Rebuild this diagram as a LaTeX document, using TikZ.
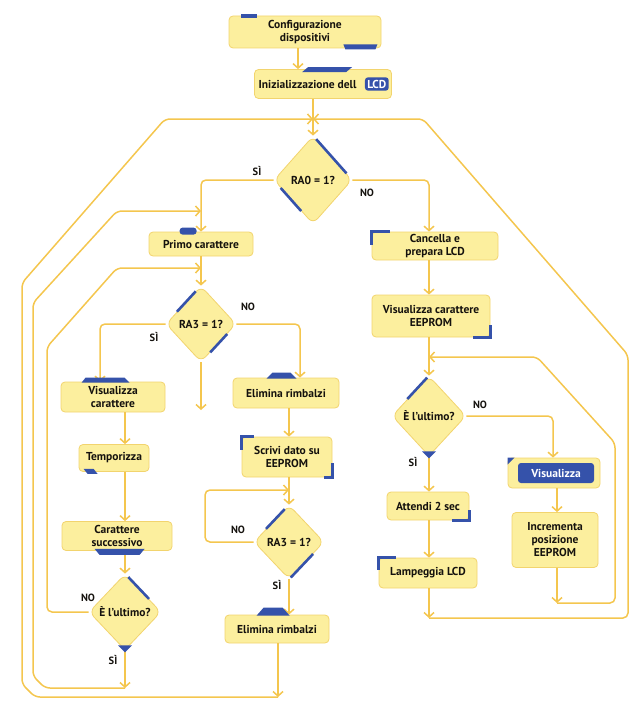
\documentclass[tikz,border=0pt]{standalone}
\usepackage{fontspec}
\setmainfont{PT Sans}
\usetikzlibrary{arrows.meta,calc,shapes.geometric}
\definecolor{boxfill}{HTML}{FCEF9E}
\definecolor{boxline}{HTML}{F2D46E}
\definecolor{linecol}{HTML}{F4C64E}
\definecolor{accent}{HTML}{3552AA}
\definecolor{txt}{HTML}{15120E}
\tikzset{
  fc/.style={draw=boxline, fill=boxfill, line width=0.8pt, rectangle, rounded corners=4pt, inner sep=1pt, align=center, text=txt, font=\bfseries\fontsize{11.5}{13}\selectfont},
  dia/.style={draw=boxline, fill=boxfill, line width=0.8pt, diamond, rounded corners=7pt, inner sep=0pt, align=center, text=txt, font=\bfseries\fontsize{11.5}{13}\selectfont},
  lcdb/.style={fill=accent, draw=none, rounded corners=3pt, text=white, inner sep=2.5pt, font=\bfseries\fontsize{11.5}{13}\selectfont},
  conn/.style={draw=linecol, line width=1.5pt, rounded corners=5pt, -{Straight Barb[length=4.5pt,width=10pt,line width=1.5pt]}},
  lbl/.style={text=txt, font=\bfseries\fontsize{10.5}{12}\selectfont, inner sep=0pt},
  acc/.style={fill=accent, draw=none},
  accl/.style={draw=accent, line width=2.6pt, line join=miter},
}
\begin{document}
\begin{tikzpicture}[x=1pt,y=-1pt]
\useasboundingbox (0,0) rectangle (634,701);

% ---------- nodes ----------
\node[fc, minimum width=152pt, minimum height=32pt] (cfg) at (305,32) {Configurazione\\dispositivi};
\node[fc, minimum width=137pt, minimum height=29pt] (init) at (323,84) {Inizializzazione dell\hspace{31pt}};
\node[lcdb, anchor=east] (lcd) at ($(init.east)+(-3,0)$) {LCD};
\node[dia, minimum width=78pt, minimum height=88pt] (ra0) at (313,180) {RA0 = 1?};
\node[fc, minimum width=104pt, minimum height=24pt] (primo) at (201,244) {Primo carattere};
\node[dia, minimum width=70pt, minimum height=76pt] (ra3a) at (201,324) {RA3 = 1?};
\node[fc, minimum width=104pt, minimum height=30pt] (viscar) at (113,397) {Visualizza\\carattere};
\node[fc, minimum width=70pt, minimum height=27pt] (temp) at (114,458) {Temporizza};
\node[fc, minimum width=110pt, minimum height=29pt] (carsucc) at (117,536) {Carattere\\successivo};
\node[dia, minimum width=72pt, minimum height=76pt] (ultA) at (125,612) {È l’ultimo?};
\node[fc, minimum width=106pt, minimum height=30pt] (elim1) at (286,393) {Elimina rimbalzi};
\node[fc, minimum width=90pt, minimum height=40pt] (scrivi) at (287,457) {Scrivi dato su\\EEPROM};
\node[dia, minimum width=70pt, minimum height=74pt] (ra3b) at (289,542) {RA3 = 1?};
\node[fc, minimum width=104pt, minimum height=28pt] (elim2) at (277,629) {Elimina rimbalzi};
\node[fc, minimum width=126pt, minimum height=28pt] (canc) at (435,246) {Cancella e\\prepara LCD};
\node[fc, minimum width=118pt, minimum height=42pt] (viseep) at (431,316) {Visualizza carattere\\EEPROM};
\node[dia, minimum width=74pt, minimum height=80pt] (ultB) at (429,416) {È l’ultimo?};
\node[fc, minimum width=82pt, minimum height=28pt] (attendi) at (428,506) {Attendi 2 sec};
\node[fc, minimum width=98pt, minimum height=30pt] (lamp) at (428,573) {Lampeggia LCD};
\node[fc, minimum width=92pt, minimum height=30pt] (vis) at (554,473) {};
\node[lcdb, minimum width=76pt, minimum height=20pt] (visin) at (556,473) {Visualizza};
\node[fc, minimum width=86pt, minimum height=55pt] (incr) at (555,540) {Incrementa\\posizione\\EEPROM};

% ---------- helper coordinates ----------
\coordinate (colA) at (125,0);
\coordinate (colB) at (289,0);
\coordinate (colC) at (429,0);
\coordinate (J0) at (ra0.north |- 0,119);
\coordinate (jP) at (primo.north |- 0,211);
\coordinate (jA) at (primo.south |- 0,268);
\coordinate (dang) at (201,410);
\coordinate (cA) at (colA |- 0,688);
\coordinate (jS) at (colB |- 0,490);
\coordinate (cB) at (278,697);
\coordinate (cC) at (colC |- 0,618);
\coordinate (jV) at (colC |- 0,357);
\coordinate (cD) at (557,603);

% ---------- connectors ----------
\draw[conn] ([xshift=-7pt]cfg.south) -- ([xshift=-7pt]cfg.south |- init.north);
\draw[conn] (ra0.north |- init.south) -- (ra0.north);
\draw[conn] (ra0.west) -| (primo.north);
\draw[conn] (ra0.east) -| (colC |- canc.north);
\draw[conn] (primo.south) -- (ra3a.north);
\draw[conn] (ra3a.west) -| ([xshift=-13pt]viscar.north);
\draw[conn] (ra3a.east) -| ([xshift=14pt]elim1.north);
\draw[conn] (ra3a.south) -- (dang);
\draw[conn] (colA |- viscar.south) -- (colA |- temp.north);
\draw[conn] (colA |- temp.south) -- (colA |- carsucc.north);
\draw[conn] (colA |- carsucc.south) -- (ultA.north);
\draw[conn] (ultA.west) -- (47,612) -- (47,347) -- (117,268) -- (jA);
\draw[conn] (ultA.south) -- (cA);
\draw[conn] (cA) -- (45,688) -- (33,676) -- (33,303) -- (117,211) -- (jP);
\draw[conn] (colB |- elim1.south) -- (colB |- scrivi.north);
\draw[conn] (colB |- scrivi.south) -- (ra3b.north);
\draw[conn] (ra3b.west) -| (205,490) -- (jS);
\draw[conn] (ra3b.south) -- (colB |- elim2.north);
\draw[conn] (cB |- elim2.south) -- (cB);
\draw[conn] (cB) -- (35,697) -- (22,684) -- (22,283) -- (165,119) -- (J0);
\draw[conn] (colC |- canc.south) -- (colC |- viseep.north);
\draw[conn] (colC |- viseep.south) -- (ultB.north);
\draw[conn] (ultB.south) -- (colC |- attendi.north);
\draw[conn] (colC |- attendi.south) -- (colC |- lamp.north);
\draw[conn] (colC |- lamp.south) -- (cC);
\draw[conn] (cC) -- (628,618) -- (628,355) -- (423,119) -- (J0);
\draw[conn] (ultB.east) -| ([xshift=-1pt]vis.north);
\draw[conn] (cD |- vis.south) -- (cD |- incr.north);
\draw[conn] (cD |- incr.south) -- (cD);
\draw[conn] (cD) -- (615,603) -- (615,443) -- (537,357) -- (jV);

% ---------- labels ----------
\node[lbl] (l1) at (257,171) {SÌ};
\node[lbl] (l2) at (367,193) {NO};
\node[lbl] (l3) at (154,337) {SÌ};
\node[lbl] (l4) at (248,307) {NO};
\node[lbl] (l5) at (88,598) {NO};
\node[lbl] (l6) at (113,660) {SÌ};
\node[lbl] (l7) at (238,530) {NO};
\node[lbl] (l8) at (277,585) {SÌ};
\node[lbl] (l9) at (480,405) {NO};
\node[lbl] (l10) at (413,462) {SÌ};

% ---------- blue accents ----------
\fill[acc] ($(cfg.north west)+(12,-2)$) rectangle ($(cfg.north west)+(28,2)$);
\fill[acc] ($(cfg.south east)+(-38,-4)$) -- ($(cfg.south east)+(-4,-4)$) -- ($(cfg.south east)+(-6,1)$) -- ($(cfg.south east)+(-36,1)$) -- cycle;
\fill[acc] ($(init.north west)+(48,3)$) -- ($(init.north west)+(54,-2)$) -- ($(init.north west)+(98,-2)$) -- ($(init.north west)+(92,3)$) -- cycle;
\draw[accl] ($(ra0.north)!0.08!(ra0.east)$) -- ($(ra0.north)!0.85!(ra0.east)$);
\draw[accl] ($(ra0.west)!0.18!(ra0.south)$) -- ($(ra0.west)!0.7!(ra0.south)$);
\fill[acc, rounded corners=3pt] ($(primo.north west)+(31,3)$) rectangle ($(primo.north west)+(48,-4)$);
\draw[accl] ($(ra3a.west)!0.32!(ra3a.north)$) -- ($(ra3a.west)!0.85!(ra3a.north)$);
\draw[accl] ($(ra3a.south)!0.26!(ra3a.east)$) -- ($(ra3a.south)!0.74!(ra3a.east)$);
\fill[acc] ($(viscar.north west)+(21,1)$) -- ($(viscar.north west)+(25,-4)$) -- ($(viscar.north west)+(64,-4)$) -- ($(viscar.north west)+(69,1)$) -- cycle;
\fill[acc] ($(temp.south west)+(5,-3)$) -- ($(temp.south west)+(15,-3)$) -- ($(temp.south west)+(19,2)$) -- ($(temp.south west)+(9,2)$) -- cycle;
\fill[acc] ($(carsucc.south west)+(33,-2)$) -- ($(carsucc.south west)+(83,-2)$) -- ($(carsucc.south west)+(78,4)$) -- ($(carsucc.south west)+(38,4)$) -- cycle;
\draw[accl] ($(ultA.north)!0.09!(ultA.east)$) -- ($(ultA.north)!0.66!(ultA.east)$);
\fill[acc] ($(ultA.south)+(-7,-5)$) -- ($(ultA.south)+(7,-5)$) -- ($(ultA.south)+(0,2)$) -- cycle;
\fill[acc] ($(elim1.north west)+(34,1)$) -- ($(elim1.north west)+(40,-5)$) -- ($(elim1.north west)+(58,-5)$) -- ($(elim1.north west)+(64,1)$) -- cycle;
\draw[accl] ($(scrivi.north west)+(0,13)$) -- (scrivi.north west) -- ($(scrivi.north west)+(12,0)$);
\draw[accl] ($(scrivi.south east)+(0,-14)$) -- (scrivi.south east) -- ($(scrivi.south east)+(-8,0)$);
\draw[accl] ($(ra3b.west)!0.35!(ra3b.north)$) -- ($(ra3b.west)!0.88!(ra3b.north)$);
\draw[accl] ($(ra3b.south)!0.05!(ra3b.east)$) -- ($(ra3b.south)!0.68!(ra3b.east)$);
\fill[acc] ($(elim2.north west)+(32,1)$) -- ($(elim2.north west)+(39,-7)$) -- ($(elim2.north west)+(58,-7)$) -- ($(elim2.north west)+(65,1)$) -- cycle;
\draw[accl] ($(canc.north west)+(0,13)$) -- (canc.north west) -- ($(canc.north west)+(18,0)$);
\draw[accl] ($(viseep.south east)+(0,-12)$) -- (viseep.south east) -- ($(viseep.south east)+(-17,0)$);
\draw[accl] ($(ultB.west)!0.42!(ultB.north)$) -- ($(ultB.west)!0.95!(ultB.north)$);
\fill[acc] ($(ultB.south)+(-7,-5)$) -- ($(ultB.south)+(7,-5)$) -- ($(ultB.south)+(0,2)$) -- cycle;
\draw[accl] ($(attendi.south east)+(0,-10)$) -- (attendi.south east) -- ($(attendi.south east)+(-17,0)$);
\draw[accl] ($(lamp.north west)+(0,12)$) -- (lamp.north west) -- ($(lamp.north west)+(17,0)$);
\fill[acc] (vis.north west) -- ($(vis.north west)+(7,0)$) -- ($(vis.north west)+(0,7)$) -- cycle;
\end{tikzpicture}
\end{document}
